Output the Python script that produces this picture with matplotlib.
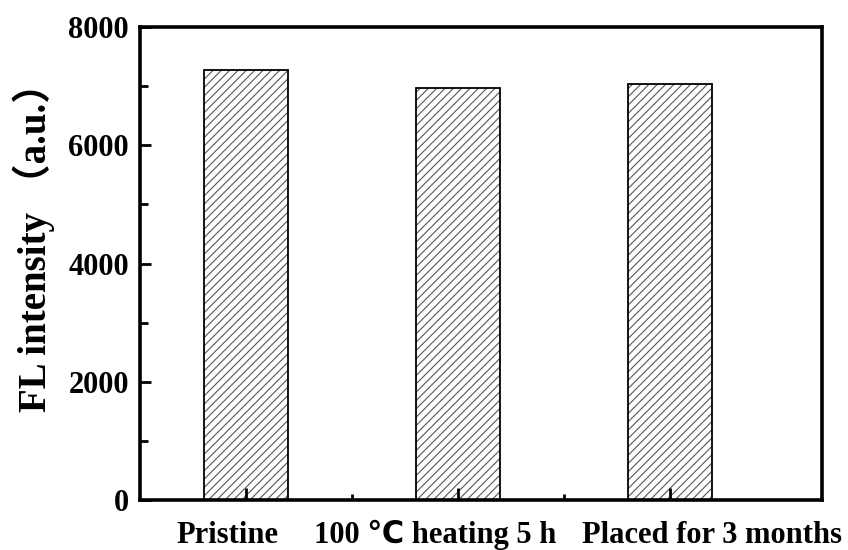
import matplotlib
matplotlib.use("Agg")
import matplotlib.pyplot as plt
import matplotlib.transforms as mtransforms
from matplotlib.ticker import MultipleLocator

categories = ["Pristine", "100 ℃ heating 5 h", "Placed for 3 months"]
values = [7270, 6960, 7035]
yticks = [0, 2000, 4000, 6000, 8000]

plt.rcParams['font.family'] = ['Liberation Serif', 'DejaVu Sans', 'Noto Sans CJK SC']
plt.rcParams['hatch.linewidth'] = 0.8
plt.rcParams['hatch.color'] = '#555555'

fig = plt.figure(figsize=(8.48, 5.5), dpi=100)
ax = fig.add_axes([0.165, 0.0909, 0.804, 0.860])

x = list(range(len(categories)))
ax.bar(x, values, width=0.4, color='white', edgecolor='#555555', hatch='////', linewidth=0)
ax.bar(x, values, width=0.4, fill=False, edgecolor='black', linewidth=1.3)

ax.set_xlim(-0.5, 2.715)
ax.set_ylim(0, 8000)
ax.set_yticks(yticks)
ax.yaxis.set_minor_locator(MultipleLocator(1000))
ax.set_xticks(x)
ax.set_xticks([0.5, 1.5], minor=True)
ax.set_xticklabels(categories, fontsize=22, fontweight='bold', va='baseline')
for lab in ax.get_yticklabels():
    lab.set_fontweight('bold')
    lab.set_fontsize(22)

ax.tick_params(axis='y', which='major', direction='in', length=8, width=2,
               right=False, pad=8)
ax.tick_params(axis='y', which='minor', direction='in', length=6, width=2, right=False)
ax.tick_params(axis='x', which='major', direction='in', length=9, width=2,
               top=False, pad=31)
ax.tick_params(axis='x', which='minor', direction='in', length=4, width=2, top=False)

# shift x tick labels horizontally as in the reference layout
offsets_px = [-19, -23, 42]
for lab, dx in zip(ax.get_xticklabels(), offsets_px):
    lab.set_transform(lab.get_transform() + mtransforms.Affine2D().translate(dx, 0))

for s in ax.spines.values():
    s.set_linewidth(2.6)

ax.set_ylabel("FL intensity （a.u.）", fontsize=28, fontweight='bold',
              family=['Liberation Serif', 'Noto Sans CJK SC'])
ax.yaxis.set_label_coords(-0.125, 0.553)

fig.savefig("out.png", dpi=100)
